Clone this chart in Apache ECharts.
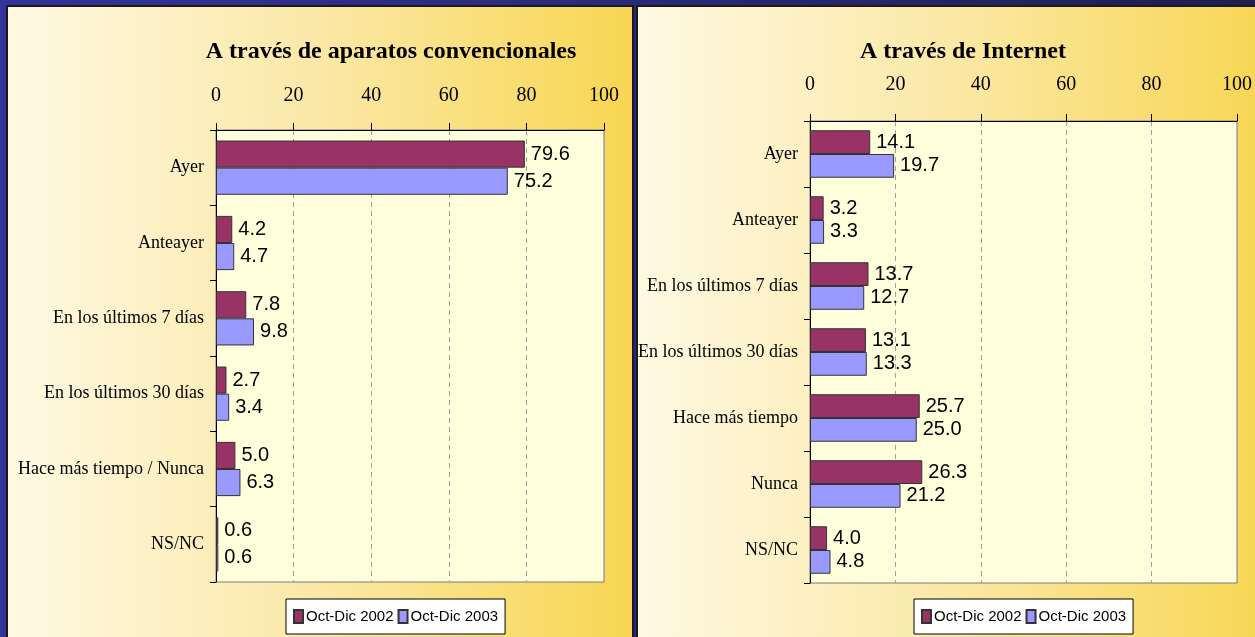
<!DOCTYPE html>
<html lang="es">
<head>
    <meta charset="utf-8">
    <title>index</title>
    <style>
        html, body { margin: 0; padding: 0; }
        body { background: linear-gradient(90deg, #333399 0%, #2a2a7a 50%, #1e1e50 100%); }
    </style>
</head>
<body>
    <div id="main" style="width: 1255px;height:637px;"></div>
    <script src="https://cdn.jsdelivr.net/npm/echarts@6/dist/echarts.min.js"></script>
    <script>
        // datos: aparatos convencionales
        var catConv = ['Ayer', 'Anteayer', 'En los últimos 7 días', 'En los últimos 30 días', 'Hace más tiempo / Nunca', 'NS/NC'];
        var conv2002 = [79.6, 4.2, 7.8, 2.7, 5.0, 0.6];
        var conv2003 = [75.2, 4.7, 9.8, 3.4, 6.3, 0.6];
        // datos: internet
        var catNet = ['Ayer', 'Anteayer', 'En los últimos 7 días', 'En los últimos 30 días', 'Hace más tiempo', 'Nunca', 'NS/NC'];
        var net2002 = [14.1, 3.2, 13.7, 13.1, 25.7, 26.3, 4.0];
        var net2003 = [19.7, 3.3, 12.7, 13.3, 25.0, 21.2, 4.8];
        var serieNames = ['Oct-Dic 2002', 'Oct-Dic 2003'];
        var titles = ['A través de aparatos convencionales', 'A través de Internet'];

        var serif = '"Liberation Serif", "Times New Roman", serif';
        var sans = '"Liberation Sans", Arial, sans-serif';
        var colors = ['#993366', '#9999ff'];

        var myChart = echarts.init(document.getElementById('main'));

        // fondo de cada panel
        function panel(x, w) {
            return {
                type: 'rect',
                shape: { x: x, y: 6, width: w, height: 660 },
                style: {
                    fill: new echarts.graphic.LinearGradient(0, 0, 1, 0, [
                        { offset: 0, color: '#fff9e3' },
                        { offset: 0.5, color: '#fbe8a6' },
                        { offset: 1, color: '#f8d652' }
                    ]),
                    stroke: '#1a1a1a',
                    lineWidth: 2
                },
                silent: true,
                z: -10
            };
        }

        function xAxisCfg(gridIndex, margin) {
            return {
                type: 'value',
                gridIndex: gridIndex,
                position: 'top',
                min: 0,
                max: 100,
                interval: 20,
                axisLine: { show: true, lineStyle: { color: '#000', width: 1 } },
                axisTick: { show: true, length: 7, lineStyle: { color: '#000' } },
                axisLabel: { margin: margin, fontFamily: serif, fontSize: 20, color: '#000' },
                splitLine: { show: true, lineStyle: { color: '#a0a0a0', type: [5, 4] } }
            };
        }

        function yAxisCfg(gridIndex, data) {
            return {
                type: 'category',
                gridIndex: gridIndex,
                inverse: true,
                data: data,
                axisLine: { show: true, onZero: false, lineStyle: { color: '#000', width: 1 } },
                axisTick: { show: true, length: 6, lineStyle: { color: '#000' } },
                axisLabel: { margin: 12, fontFamily: serif, fontSize: 18, color: '#000' }
            };
        }

        function barSerie(idx, name, data) {
            return {
                name: name,
                type: 'bar',
                xAxisIndex: idx,
                yAxisIndex: idx,
                data: data,
                barGap: '0%',
                barCategoryGap: '28%',
                itemStyle: { color: colors[serieNames.indexOf(name)], borderColor: '#333', borderWidth: 1 },
                label: {
                    show: true,
                    position: 'right',
                    distance: 6,
                    fontFamily: sans,
                    fontSize: 20,
                    color: '#000',
                    formatter: function (p) { return p.value.toFixed(1); }
                },
                animation: false
            };
        }

        function legendCfg(centerX) {
            return {
                data: serieNames,
                left: centerX - 112,
                top: 599,
                width: 240,
                backgroundColor: '#fff',
                borderColor: '#000',
                borderWidth: 1,
                padding: [10, 7, 10, 7],
                itemGap: 4,
                itemWidth: 9,
                itemHeight: 13,
                icon: 'rect',
                textStyle: { fontFamily: sans, fontSize: 15, color: '#000', padding: [0, 0, 0, -2] }
            };
        }

        var option = {
            backgroundColor: 'transparent',
            animation: false,
            graphic: [panel(7, 626), panel(637, 630)],
            title: [
                {
                    text: titles[0], left: 386, top: 35, textAlign: 'center',
                    textStyle: { fontFamily: serif, fontWeight: 'bold', fontSize: 24, color: '#000' }
                },
                {
                    text: titles[1], left: 958, top: 35, textAlign: 'center',
                    textStyle: { fontFamily: serif, fontWeight: 'bold', fontSize: 24, color: '#000' }
                }
            ],
            legend: [legendCfg(398), legendCfg(1026)],
            grid: [
                { left: 216, top: 130, width: 388, height: 452, show: true, backgroundColor: '#ffffdc', borderColor: '#7a7a7a', borderWidth: 1 },
                { left: 810, top: 121, width: 430, height: 462, show: true, backgroundColor: '#ffffdc', borderColor: '#7a7a7a', borderWidth: 1 }
            ],
            xAxis: [xAxisCfg(0, 24), xAxisCfg(1, 26)],
            yAxis: [yAxisCfg(0, catConv), yAxisCfg(1, catNet)],
            series: [
                barSerie(0, serieNames[0], conv2002),
                barSerie(0, serieNames[1], conv2003),
                barSerie(1, serieNames[0], net2002),
                barSerie(1, serieNames[1], net2003)
            ]
        };

        myChart.setOption(option);
    </script>
</body>
</html>
